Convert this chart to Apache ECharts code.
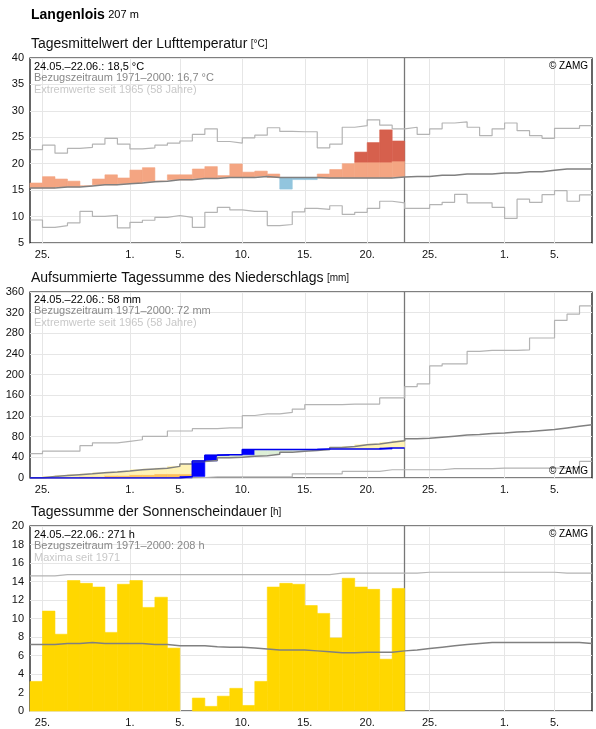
<!DOCTYPE html>
<html><head><meta charset="utf-8">
<script src="https://cdn.jsdelivr.net/npm/echarts@6/dist/echarts.min.js"></script>
<style>html,body{margin:0;padding:0;background:#fff}#c{width:596px;height:729px}</style>
</head><body><div id="c"></div>
<script>
// day index 0 = 24.05., 45 days
const xTickIdx = [1, 8, 12, 17, 22, 27, 32, 38, 42];
const xTickLbl = ['25.', '1.', '5.', '10.', '15.', '20.', '25.', '1.', '5.'];
const obsEnd = 30;

const tempObs = [16.35,17.55,17.1,16.7,15.8,17.1,17.9,17.3,18.8,19.25,16.7,17.9,17.9,19.0,19.45,17.75,19.95,18.4,18.6,18.05,15.2,17.0,17.0,18.05,18.9,20.0,22.2,24.0,26.4,24.3];
const tempMean = [15.4,15.4,15.6,15.6,15.8,16.0,16.0,16.2,16.35,16.6,16.7,16.95,16.95,17.2,17.2,17.4,17.4,17.4,17.6,17.4,17.4,17.4,17.4,17.3,17.3,17.3,17.3,17.3,17.3,17.5,17.6,17.6,17.8,17.8,18.05,18.05,18.05,18.25,18.25,18.5,18.5,18.75,19.0,19.0,19.0];
const tempMax = [22.65,23.5,22.0,22.9,23.1,23.7,24.8,23.7,22.8,23.0,23.5,23.9,24.3,25.55,26.6,24.2,23.9,24.9,25.4,26.8,26.1,26.05,26.05,23.0,23.7,26.9,27.2,28.3,27.3,26.6,26.9,25.55,26.6,27.7,27.9,26.9,25.3,26.6,27.7,26.25,25.3,24.8,26.7,26.7,27.2];
const tempMin = [9.35,7.95,8.3,8.8,11.0,10.05,10.25,7.85,8.9,9.3,9.85,10.2,9.85,7.95,10.8,11.75,11.25,11.0,11.0,8.3,8.5,10.9,11.55,11.35,12.05,10.4,10.8,11.55,12.9,12.6,11.55,11.55,12.25,12.7,14.2,12.6,12.6,11.75,9.65,13.3,12.7,14.15,14.9,12.9,14.1];

const precObs = [0,0,0,0,0,0,0,0,0,0,0,0,3,33,44,45,45,55,55,55,55,55,55,56,56,56,56,56,58,58];
const precOrange = [0.5,0.5,0.5,1,3,3,5,5,6.5,6.5,8,8,8,0,0,0,0,0,0,0,0,0,0,0,0,0,0,0,0,0];
const precMean = [0.5,3,5,6.5,8,10,11.6,13.5,16,17.5,19,22.5,27,32,34,39,40,42,43,46,50,52,53,55,59,61,64.5,66,69,72,76,77,79,81,83,84,86,87,89,90,92,94,97,100,103];
const precMax = [47,52,52,52,62.5,68,68,71,74,80.6,80.6,91,91,95.5,95.5,97,97,121,124,124,127,133.5,142,142,142,143,143,143,155,155,177,182,217,221,221,245,247,247,247,248,271,271,305,317,333];
const precMin = [0,0,0,0,0,0,0,0,0,0,0,0,0,1,2,2,2,2,2,2,2,8,8,8,8,13,13,13,16,16,16,16,16,18,18,18,18,19,19,19,19,19,19,20,32];

const sunObs = [3.2,10.8,8.3,14.1,13.8,13.4,8.5,13.7,14.1,11.2,12.3,6.8,0,1.4,0.5,1.6,2.45,0.6,3.2,13.4,13.8,13.7,11.4,10.55,7.9,14.35,13.4,13.15,5.6,13.25];
const sunMean = [7.2,7.2,7.3,7.3,7.4,7.3,7.3,7.3,7.3,7.2,7.2,7.05,7.05,7.05,6.95,6.9,6.9,6.8,6.7,6.6,6.6,6.6,6.5,6.4,6.3,6.3,6.35,6.35,6.35,6.5,6.6,6.75,6.9,7.05,7.2,7.3,7.4,7.4,7.4,7.4,7.4,7.4,7.4,7.4,7.3];
const sunMax = [14.6,14.6,14.75,14.75,14.75,14.75,14.75,14.75,14.75,14.75,14.75,14.75,14.75,14.75,14.75,14.75,14.75,14.75,14.75,14.75,14.75,14.75,14.75,14.75,14.9,14.9,14.9,14.9,14.9,14.9,14.9,15.0,15.0,15.0,15.0,15.0,15.0,15.0,15.0,15.0,15.0,15.0,14.9,14.9,14.9];

const LX = 30, RX = 592;
const grids = [{top:58,h:185},{top:292,h:186},{top:526,h:185}];
const yCfg = [{min:5,max:40,interval:5},{min:0,max:360,interval:40},{min:0,max:20,interval:2}];

function stepData(arr){ const d = arr.map((v,i)=>[i,v]); d.push([arr.length, arr[arr.length-1]]); return d; }
function rect(api,x0,x1,y0,y1,color){
  const p0 = api.coord([x0,y0]), p1 = api.coord([x1,y1]);
  return {type:'rect', shape:{x:p0[0], y:Math.min(p0[1],p1[1]), width:p1[0]-p0[0], height:Math.abs(p1[1]-p0[1])},
    style:{fill:color, stroke:color, lineWidth:0.6}};
}
function line(k, arr, color, w, z){
  return {type:'line', xAxisIndex:k, yAxisIndex:k, step:'end', data:stepData(arr), symbol:'none', silent:true,
    lineStyle:{color:color, width:w}, z:z};
}

const xAxis = [], yAxis = [], grid = [], series = [];
grids.forEach((g,k)=>{
  grid.push({left:LX, width:RX-LX, top:g.top, height:g.h, show:true, borderColor:'#000', borderWidth:1.2});
  xAxis.push({type:'value', gridIndex:k, min:0, max:45, interval:1,
    axisLine:{show:false}, axisTick:{show:false}, splitLine:{show:false},
    axisLabel:{fontSize:11, color:'#111', margin:6, fontFamily:'Liberation Sans, Arial',
      formatter:v=>{const j = xTickIdx.indexOf(v); return j>=0 ? xTickLbl[j] : '';}}});
  yAxis.push(Object.assign({type:'value', gridIndex:k, axisLine:{show:false}, axisTick:{show:false},
    splitLine:{lineStyle:{color:'#e6e6e6'}},
    axisLabel:{fontSize:11, color:'#111', margin:6, fontFamily:'Liberation Sans, Arial'}}, yCfg[k]));
  series.push({type:'line', xAxisIndex:k, yAxisIndex:k, data:[], z:1, silent:true,
    markLine:{silent:true, symbol:'none', label:{show:false},
      data: xTickIdx.map(v=>({xAxis:v, lineStyle:{color:'#e6e6e6', width:1, type:'solid'}}))}});
  series.push({type:'line', xAxisIndex:k, yAxisIndex:k, data:[], z:20, silent:true,
    markLine:{silent:true, symbol:'none', label:{show:false},
      data:[{xAxis:obsEnd, lineStyle:{color:'#777', width:1.3, type:'solid'}}]}});
});

// temperature bars
series.push({type:'custom', xAxisIndex:0, yAxisIndex:0, z:5, silent:true,
  data: tempObs.map((v,i)=>[i,v,tempMean[i]]),
  renderItem:(p,api)=>{
    const i=api.value(0), v=api.value(1), m=api.value(2), ch=[];
    if (v>=m){ const cap=m+3; ch.push(rect(api,i,i+1,m,Math.min(v,cap),'#f4a582'));
      if (v>cap) ch.push(rect(api,i,i+1,cap,v,'#d6604d')); }
    else ch.push(rect(api,i,i+1,v,m,'#92c5de'));
    return {type:'group', children:ch};
  }});
series.push(line(0,tempMax,'#b4b4b4',1.2,8), line(0,tempMin,'#b4b4b4',1.2,8), line(0,tempMean,'#808080',1.5,9));

// precipitation
series.push({type:'custom', xAxisIndex:1, yAxisIndex:1, z:5, silent:true,
  data: precObs.map((v,i)=>[i,v,precMean[i],precOrange[i],i>0?precObs[i-1]:0]),
  renderItem:(p,api)=>{
    const i=api.value(0), a=api.value(1), m=api.value(2), o=api.value(3), prev=api.value(4), ch=[];
    if (a<m){ const ot=Math.max(a,Math.min(o,m)); if (ot>a) ch.push(rect(api,i,i+1,a,ot,'#fdc05a'));
      ch.push(rect(api,i,i+1,ot,m,'#fff3b5')); }
    else if (a>m) ch.push(rect(api,i,i+1,m,a,'#ddefd6'));
    if (a>prev) ch.push(rect(api,i,i+1,prev,a,'#0000ff'));
    return {type:'group', children:ch};
  }});
series.push(line(1,precMax,'#b4b4b4',1.2,8), line(1,precMin,'#b4b4b4',1.2,8), line(1,precMean,'#808080',1.5,9), line(1,precObs,'#0000ee',1.5,10));

// sunshine
series.push({type:'custom', xAxisIndex:2, yAxisIndex:2, z:5, silent:true,
  data: sunObs.map((v,i)=>[i,v]),
  renderItem:(p,api)=>{ const i=api.value(0), v=api.value(1);
    return {type:'group', children: v>0 ? [rect(api,i,i+1,0,v,'#ffd700')] : []}; }});
series.push(line(2,sunMax,'#b4b4b4',1.2,8), line(2,sunMean,'#808080',1.5,9));

const F = 'Liberation Sans, Arial, sans-serif';
function T(x,y,text,size,color){ return {type:'text', left:x, top:y, z:100, silent:true,
  style:{text:text, fontSize:size, fill:color, fontFamily:F}}; }
function Z(y){ return {type:'text', right:8, top:y, z:100, silent:true,
  style:{text:'© ZAMG', fontSize:10, fill:'#000', fontFamily:F}}; }
function title(y, main, unit){ return {type:'text', left:31, top:y, z:100, silent:true,
  style:{rich:{a:{fontSize:14, fill:'#111', fontFamily:F}, b:{fontSize:10, fill:'#111', fontFamily:F}},
    text:'{a|'+main+'} {b|['+unit+']}', fontFamily:F}}; }

const graphic = [
  {type:'text', left:31, top:8, z:100, style:{rich:{a:{fontSize:14,fontWeight:'bold',fill:'#000',fontFamily:F}, b:{fontSize:11,fill:'#000',fontFamily:F}}, text:'{a|Langenlois} {b|207 m}'}},
  title(37,'Tagesmittelwert der Lufttemperatur','°C'),
  T(34,61,'24.05.–22.06.: 18,5 °C',11,'#000'),
  T(34,72,'Bezugszeitraum 1971–2000: 16,7 °C',11,'#888'),
  T(34,84,'Extremwerte seit 1965 (58 Jahre)',11,'#c8c8c8'),
  Z(61),
  title(271,'Aufsummierte Tagessumme des Niederschlags','mm'),
  T(34,294,'24.05.–22.06.: 58 mm',11,'#000'),
  T(34,305,'Bezugszeitraum 1971–2000: 72 mm',11,'#888'),
  T(34,317,'Extremwerte seit 1965 (58 Jahre)',11,'#c8c8c8'),
  Z(466),
  title(505,'Tagessumme der Sonnenscheindauer','h'),
  T(34,529,'24.05.–22.06.: 271 h',11,'#000'),
  T(34,540,'Bezugszeitraum 1971–2000: 208 h',11,'#888'),
  T(34,552,'Maxima seit 1971',11,'#c8c8c8'),
  Z(529)
];

const chart = echarts.init(document.getElementById('c'), null, {renderer:'canvas'});
chart.setOption({animation:false, backgroundColor:'#fff', grid, xAxis, yAxis, series, graphic});
</script></body></html>
